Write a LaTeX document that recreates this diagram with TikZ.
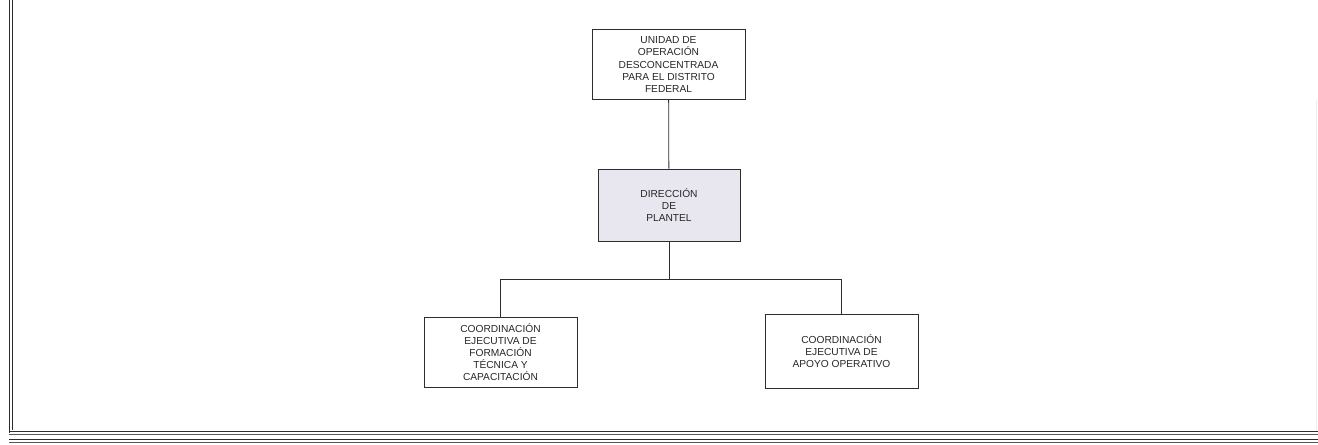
\documentclass[tikz,border=0pt]{standalone}
\usepackage{fontspec}
\setmainfont{Liberation Sans}
\usepackage{xcolor}
\usetikzlibrary{positioning}
\definecolor{boxgray}{RGB}{232,230,238}
\definecolor{linegray}{RGB}{45,45,45}

\begin{document}
\begin{tikzpicture}[x=0.02cm,y=-0.02cm]
        \useasboundingbox (0,0) rectangle (1318,444);
        % marco
        \draw[linegray,line width=0.5pt] (9,0) -- (9,433);
        \draw[linegray,line width=0.5pt] (12.5,0) -- (12.5,430);
        \draw[linegray,line width=0.5pt] (9,431) -- (1318,431);
        \draw[linegray!80,line width=0.45pt] (9,434) -- (1318,434);
        \draw[linegray,line width=0.5pt] (9,439) -- (1318,439);
        \draw[linegray!80,line width=0.45pt] (9,442) -- (1318,442);
        \draw[black!7,line width=0.4pt] (1316.5,100) -- (1316.5,431);
        \begin{scope}[every node/.style={draw=linegray,line width=0.45pt,align=center,
            font=\fontsize{5.8}{6.9}\selectfont,text=black!85,inner sep=0pt}]
          \node[minimum width=3.06cm,minimum height=1.4cm] (udo) at (668.5,64.5)
            {UNIDAD DE\\OPERACIÓN\\DESCONCENTRADA\\PARA EL DISTRITO\\FEDERAL};
          \node[fill=boxgray,minimum width=2.84cm,minimum height=1.44cm] (dir) at (669,205)
            {DIRECCIÓN\\DE\\PLANTEL};
          \node[minimum width=3.06cm,minimum height=1.4cm] (cft) at (500.5,352)
            {COORDINACIÓN\\EJECUTIVA DE\\FORMACIÓN\\TÉCNICA Y\\CAPACITACIÓN};
          \node[minimum width=3.06cm,minimum height=1.48cm] (cao) at (841.5,351)
            {COORDINACIÓN\\EJECUTIVA DE\\APOYO OPERATIVO};
        \end{scope}
        \coordinate (bus) at (669,279);
        \begin{scope}[every edge/.style={draw=linegray,line width=0.45pt}]
          \path (udo) edge (dir);
          \path (dir) edge (bus);
          \path (bus) edge[to path={-| (\tikztotarget)}] (cft);
          \path (bus) edge[to path={-| (\tikztotarget)}] (cao);
        \end{scope}
      \end{tikzpicture}
\end{document}
